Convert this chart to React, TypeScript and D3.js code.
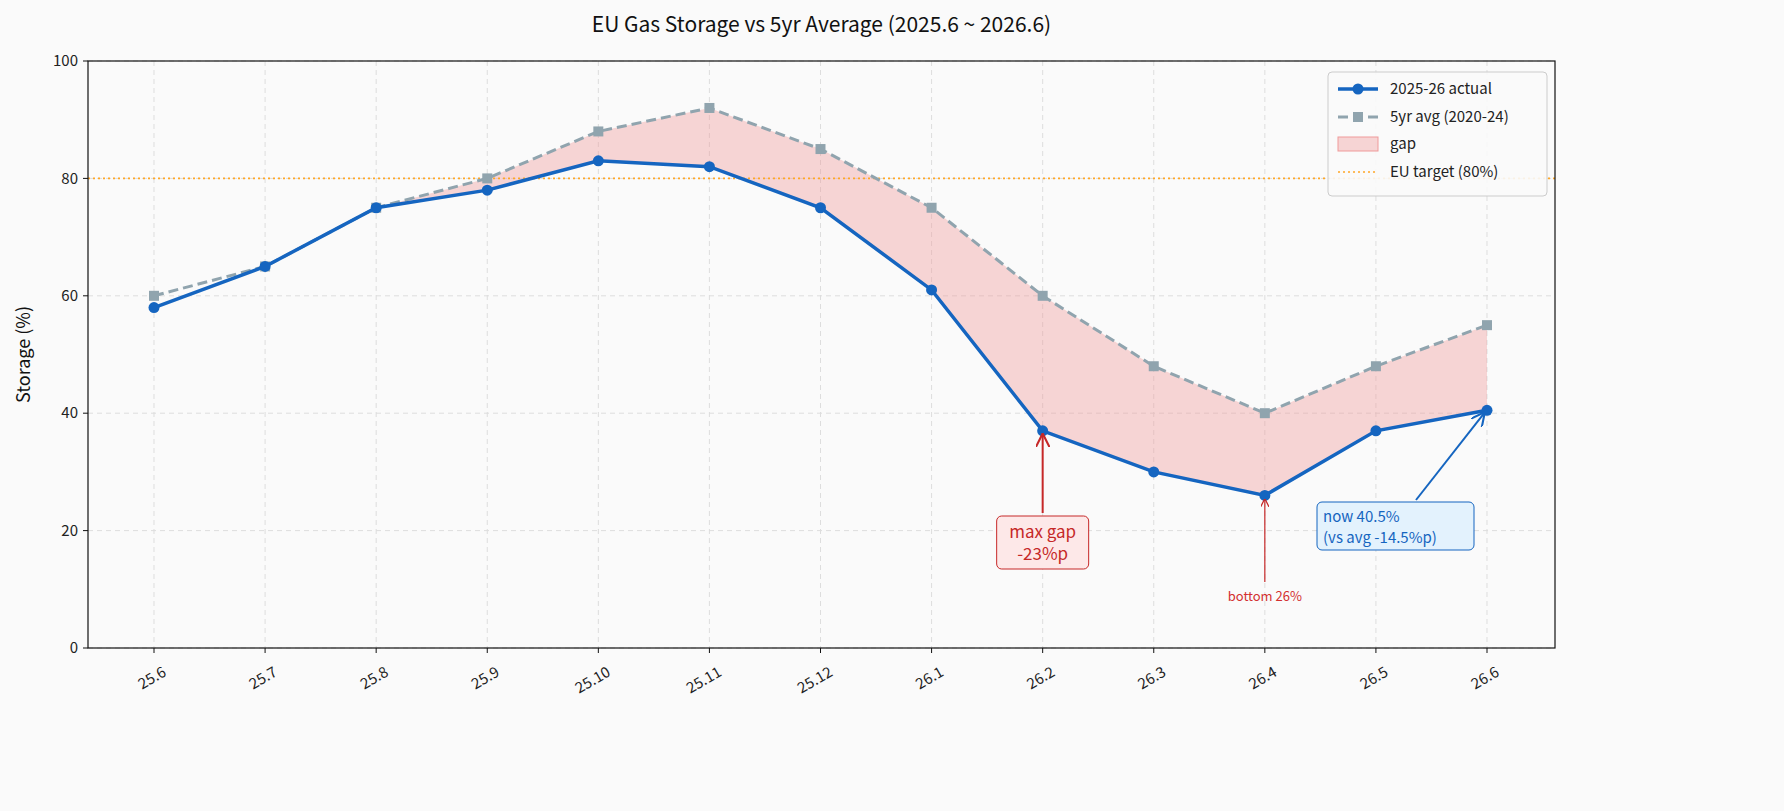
import React from 'react';
import * as d3 from 'd3';

const months = ['25.6', '25.7', '25.8', '25.9', '25.10', '25.11', '25.12', '26.1', '26.2', '26.3', '26.4', '26.5', '26.6'];
const actual = [58, 65, 75, 78, 83, 82, 75, 61, 37, 30, 26, 37, 40.5];
const avg5yr = [60, 65, 75, 80, 88, 92, 85, 75, 60, 48, 40, 48, 55];
const yTicks = [0, 20, 40, 60, 80, 100];
const target = 80;

const W = 1784, H = 811;
const m = { left: 88, right: 1555, top: 61, bottom: 648 };
const FONT = '"Noto Sans CJK KR", "Noto Sans", sans-serif';

export default function App() {
  const x = d3.scalePoint<string>().domain(months).range([154, 1487]);
  const y = d3.scaleLinear().domain([0, 100]).range([m.bottom, m.top]);
  const idx = months.map((_, i) => i);
  const line = (vals: number[]) =>
    d3.line<number>().x(i => x(months[i])!).y(i => y(vals[i]))(idx)!;
  const area = d3.area<number>()
    .defined(i => i >= 2 && avg5yr[i] >= actual[i])
    .x(i => x(months[i])!)
    .y0(i => y(actual[i]))
    .y1(i => y(avg5yr[i]))(idx)!;

  const blue = '#1565c0', grey = '#90a4ae', red = '#c62828';
  const gi = 8, bi = 10, ni = 12;

  return (
    <svg width={W} height={H} style={{ display: 'block', position: 'absolute', left: 0, top: 0 }} fontFamily={FONT}>
      <rect width={W} height={H} fill="#fafafa" />
      <text x={(m.left + m.right) / 2} y={32} textAnchor="middle" fontSize={21} fill="#111">EU Gas Storage vs 5yr Average (2025.6 ~ 2026.6)</text>
      {/* grid */}
      {months.map(mo => (
        <line key={mo} x1={x(mo)} x2={x(mo)} y1={m.top} y2={m.bottom} stroke="#ddd" strokeDasharray="5,4" />
      ))}
      {yTicks.map(t => (
        <line key={t} x1={m.left} x2={m.right} y1={y(t)} y2={y(t)} stroke="#ddd" strokeDasharray="5,4" />
      ))}
      <path d={area} fill="#ef9a9a" fillOpacity={0.4} />
      <line x1={m.left} x2={m.right} y1={y(target)} y2={y(target)} stroke="#ffa726" strokeWidth={1.6} strokeDasharray="2,3" />
      <path d={line(avg5yr)} fill="none" stroke={grey} strokeWidth={3} strokeDasharray="10,5" />
      {avg5yr.map((v, i) => (
        <rect key={i} x={x(months[i])! - 5} y={y(v) - 5} width={10} height={10} fill={grey} />
      ))}
      <path d={line(actual)} fill="none" stroke={blue} strokeWidth={3.5} />
      {actual.map((v, i) => (
        <circle key={i} cx={x(months[i])} cy={y(v)} r={5.5} fill={blue} />
      ))}
      {/* axes */}
      <rect x={m.left} y={m.top} width={m.right - m.left} height={m.bottom - m.top} fill="none" stroke="#111" strokeWidth={1.2} />
      {yTicks.map(t => (
        <g key={t}>
          <line x1={m.left - 5} x2={m.left} y1={y(t)} y2={y(t)} stroke="#111" />
          <text x={m.left - 10} y={y(t)} dy="0.35em" textAnchor="end" fontSize={15} fill="#222">{t}</text>
        </g>
      ))}
      {months.map(mo => (
        <g key={mo}>
          <line x1={x(mo)} x2={x(mo)} y1={m.bottom} y2={m.bottom + 5} stroke="#111" />
          <text transform={`translate(${x(mo)! + 8},${m.bottom + 18}) rotate(-30)`} textAnchor="end" dy="0.7em" fontSize={15} fill="#222">{mo}</text>
        </g>
      ))}
      <text transform={`translate(30,${(m.top + m.bottom) / 2}) rotate(-90)`} textAnchor="middle" fontSize={18} fill="#111">Storage (%)</text>
      {/* annotations */}
      <defs>
        <marker id="ar" viewBox="0 0 10 10" refX="9" refY="5" markerWidth="7" markerHeight="7" orient="auto">
          <path d="M0,0 L10,5 L0,10" fill="none" stroke={red} strokeWidth={1.5} />
        </marker>
        <marker id="ab" viewBox="0 0 10 10" refX="9" refY="5" markerWidth="7" markerHeight="7" orient="auto">
          <path d="M0,0 L10,5 L0,10" fill="none" stroke={blue} strokeWidth={1.5} />
        </marker>
      </defs>
      <line x1={x(months[gi])} x2={x(months[gi])} y1={513} y2={y(actual[gi]) + 4} stroke={red} strokeWidth={2} markerEnd="url(#ar)" />
      <rect x={x(months[gi])! - 46} y={516} width={92} height={53} rx={5} fill="#fde8e8" stroke={red} />
      <text x={x(months[gi])} y={538} textAnchor="middle" fontSize={17} fill={red}>max gap</text>
      <text x={x(months[gi])} y={560} textAnchor="middle" fontSize={17} fill={red}>-23%p</text>
      <line x1={x(months[bi])} x2={x(months[bi])} y1={582} y2={y(actual[bi]) + 4} stroke={red} strokeWidth={1.2} markerEnd="url(#ar)" />
      <text x={x(months[bi])} y={601} textAnchor="middle" fontSize={13} fill="#d32f2f">bottom 26%</text>
      <line x1={1416} y1={500} x2={x(months[ni])! - 3} y2={y(actual[ni]) + 3} stroke={blue} strokeWidth={2} markerEnd="url(#ab)" />
      <rect x={1317} y={502} width={157} height={48} rx={5} fill="#e3f2fd" stroke={blue} />
      <text x={1323} y={522} fontSize={15} fill={blue}>now 40.5%</text>
      <text x={1323} y={543} fontSize={15} fill={blue}>(vs avg -14.5%p)</text>
      {/* legend */}
      <g transform="translate(1328,72)">
        <rect width={219} height={124} rx={4} fill="#fafafa" fillOpacity={0.9} stroke="#ccc" />
        <line x1={10} x2={50} y1={17} y2={17} stroke={blue} strokeWidth={3.5} />
        <circle cx={30} cy={17} r={5.5} fill={blue} />
        <text x={62} y={17} dy="0.35em" fontSize={15} fill="#222">2025-26 actual</text>
        <line x1={10} x2={50} y1={45} y2={45} stroke={grey} strokeWidth={3} strokeDasharray="10,5" />
        <rect x={25} y={40} width={10} height={10} fill={grey} />
        <text x={62} y={45} dy="0.35em" fontSize={15} fill="#222">5yr avg (2020-24)</text>
        <rect x={10} y={65} width={40} height={14} fill="#ef9a9a" fillOpacity={0.4} stroke="#ef9a9a" />
        <text x={62} y={72} dy="0.35em" fontSize={15} fill="#222">gap</text>
        <line x1={10} x2={50} y1={100} y2={100} stroke="#ffa726" strokeWidth={1.6} strokeDasharray="2,3" />
        <text x={62} y={100} dy="0.35em" fontSize={15} fill="#222">EU target (80%)</text>
      </g>
    </svg>
  );
}
